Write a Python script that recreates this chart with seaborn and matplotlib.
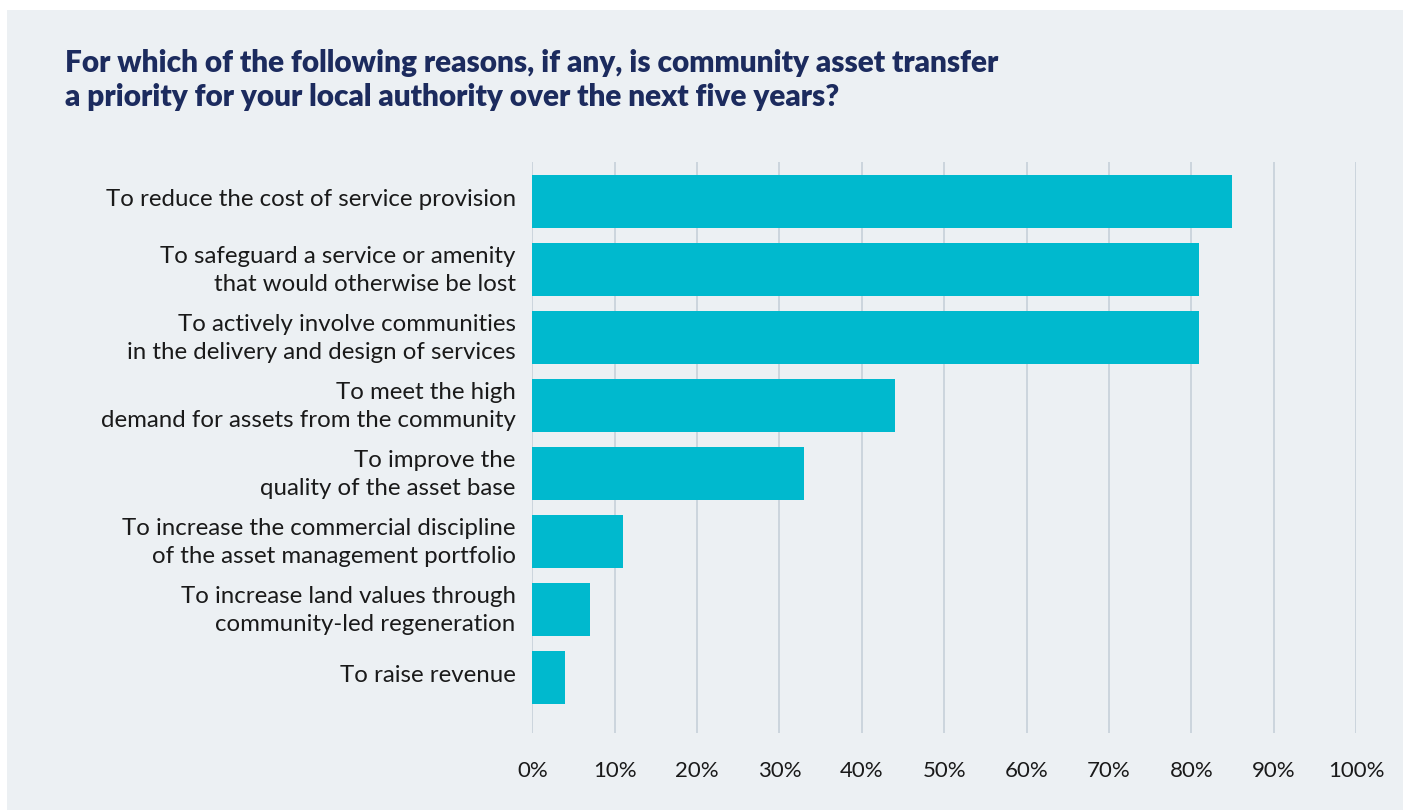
import matplotlib
matplotlib.use("Agg")
import matplotlib.pyplot as plt
import matplotlib.transforms as mtransforms
import seaborn as sns
import pandas as pd
from matplotlib.patches import Rectangle

categories = [
    "To reduce the cost of service provision",
    "To safeguard a service or amenity\nthat would otherwise be lost",
    "To actively involve communities\nin the delivery and design of services",
    "To meet the high\ndemand for assets from the community",
    "To improve the\nquality of the asset base",
    "To increase the commercial discipline\nof the asset management portfolio",
    "To increase land values through\ncommunity-led regeneration",
    "To raise revenue",
]
values = [85, 81, 81, 44, 33, 11, 7, 4]
tick_values = [0, 10, 20, 30, 40, 50, 60, 70, 80, 90, 100]
tick_labels = [f"{v}%" for v in tick_values]
title = ("For which of the following reasons, if any, is community asset transfer\n"
         "a priority for your local authority over the next five years?")

sns.set_theme(style="white")
plt.rcParams["font.family"] = ["Lato", "DejaVu Sans"]

BG = "#ECF0F3"
BAR = "#00B9CE"
NAVY = "#1C2B5E"
GRID = "#C9D3DB"
TXT = "#1A1A1A"

W, H = 1403, 810
fig = plt.figure(figsize=(W / 100, H / 100), dpi=100)
fig.patch.set_facecolor("white")
fig.patches.append(Rectangle((7 / W, 0), 1 - 7 / W, 1 - 10 / H, transform=fig.transFigure,
                             facecolor=BG, edgecolor="none", zorder=-10))

ax = fig.add_axes([532.3 / W, (H - 733) / H, (1356 - 532.3) / W, (733 - 162) / H])
ax.set_facecolor("none")

df = pd.DataFrame({"reason": categories, "pct": values})
sns.barplot(data=df, x="pct", y="reason", color=BAR, saturation=1, width=0.78, ax=ax,
            zorder=3, linewidth=0, edgecolor="none")

ax.set_xlim(0, 100)
ax.set_ylim(7.816, -0.58)
ax.set_xticks(tick_values)
ax.set_xticklabels(tick_labels)
ax.grid(axis="x", color=GRID, linewidth=1.3, zorder=0)
ax.set_axisbelow(True)
for s in ax.spines.values():
    s.set_visible(False)
ax.tick_params(axis="x", length=0, pad=20, labelsize=16, labelcolor=TXT)
ax.tick_params(axis="y", length=0, pad=12, labelsize=17.3, labelcolor=TXT)
shift = mtransforms.ScaledTranslation(0, 4 / 100, fig.dpi_scale_trans)
for lbl in ax.get_yticklabels():
    lbl.set_horizontalalignment("right")
    lbl.set_linespacing(1.38)
    lbl.set_transform(lbl.get_transform() + shift)
ax.set_xlabel("")
ax.set_ylabel("")

fig.text(65 / W, 1 - 49 / H, title, ha="left", va="top", fontsize=21.4, fontweight="heavy",
         color=NAVY, linespacing=1.26)

fig.savefig("out.png", dpi=100, facecolor=fig.get_facecolor())
